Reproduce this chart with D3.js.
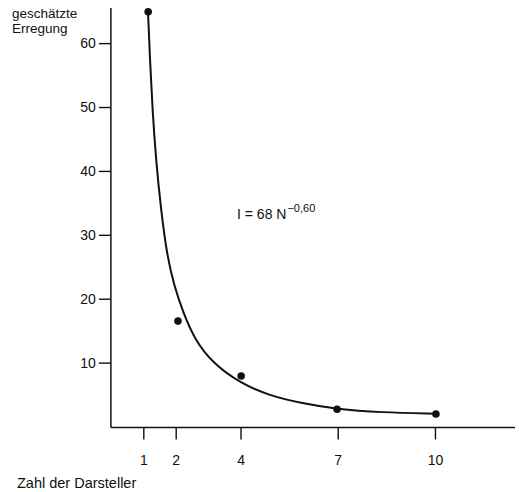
<!DOCTYPE html>
<html lang="de">
  <head>
    <meta charset="utf-8">
    <script type="text/javascript" src="https://cdn.jsdelivr.net/npm/d3@7/dist/d3.min.js"></script>
    <style>
      body { margin: 0; background: #fff; }
      svg { display: block; }
      text { font-family: "Liberation Sans", Arial, sans-serif; fill: #111; }
    </style>
  </head>
  <body>
    <svg id="chart"></svg>
  </body>
  <script type="text/javascript">
    // tick values
    var xTicks = [1, 2, 4, 7, 10];
    var yTicks = [10, 20, 30, 40, 50, 60];

    // measured points (Zahl der Darsteller, geschätzte Erregung)
    var pointN = [1.15, 2.07, 4.02, 6.98, 10.03];
    var pointI = [64.9, 16.5, 7.9, 2.7, 1.95];

    // fitted curve
    var curveN = [1.145, 1.207, 1.284, 1.392, 1.546, 1.731, 1.947, 2.225, 2.596, 3.151, 3.985, 4.91, 5.836, 6.978, 8.306, 10.034];
    var curveI = [64.9, 57.3, 49.5, 41.7, 33.9, 26.8, 22.1, 17.9, 13.5, 9.9, 6.8, 4.8, 3.7, 2.7, 2.2, 2.0];

    var width = 519;
    var height = 492;

    var svg = d3.select('#chart')
      .attr('width', width)
      .attr('height', height);

    var x = d3.scaleLinear()
      .domain([0, 12.47])
      .range([110.9, 515]);

    var y = d3.scaleLinear()
      .domain([0, 65.5])
      .range([426.5, 8]);

    // axis lines drawn by hand, the ticks come from d3
    svg.append('line')
      .attr('x1', x(0)).attr('x2', x(0))
      .attr('y1', y(65.5)).attr('y2', y(0) + 1)
      .attr('stroke', '#111').attr('stroke-width', 1.5);
    svg.append('line')
      .attr('x1', x(0)).attr('x2', x(12.47))
      .attr('y1', y(0) + 1).attr('y2', y(0) + 1)
      .attr('stroke', '#111').attr('stroke-width', 1.5);

    var yAxis = d3.axisLeft(y)
      .tickValues(yTicks)
      .tickSize(12)
      .tickPadding(3);

    svg.append('g')
      .attr('class', 'yaxis')
      .attr('transform', 'translate(' + x(0) + ',0)')
      .call(yAxis)
      .call(function(g){ g.select('.domain').remove(); });

    var xAxis = d3.axisBottom(x)
      .tickValues(xTicks)
      .tickSize(12)
      .tickPadding(16);

    svg.append('g')
      .attr('class', 'xaxis')
      .attr('transform', 'translate(0,' + (y(0) + 1) + ')')
      .call(xAxis)
      .call(function(g){ g.select('.domain').remove(); });

    svg.selectAll('.tick line').attr('stroke', '#111').attr('stroke-width', 1.4);
    svg.selectAll('.tick text')
      .attr('fill', '#111')
      .style('font-size', '14px')
      .style('font-family', '"Liberation Sans", Arial, sans-serif');

    // curve
    var curveData = curveN.map(function(n, i){ return {n: n, v: curveI[i]}; });
    var line = d3.line()
      .x(function(d){ return x(d.n); })
      .y(function(d){ return y(d.v); })
      .curve(d3.curveBasis);

    svg.append('path')
      .datum(curveData)
      .attr('d', line)
      .attr('fill', 'none')
      .attr('stroke', '#111')
      .attr('stroke-width', 2);

    // points
    var pts = pointN.map(function(n, i){ return {n: n, v: pointI[i]}; });
    svg.selectAll('circle')
      .data(pts).enter()
      .append('circle')
      .attr('cx', function(d){ return x(d.n); })
      .attr('cy', function(d){ return y(d.v); })
      .attr('r', 3.8)
      .attr('fill', '#111');

    // axis titles
    svg.append('text')
      .attr('x', 12).attr('y', 18)
      .style('font-size', '13.5px')
      .text('geschätzte');
    svg.append('text')
      .attr('x', 12).attr('y', 33)
      .style('font-size', '13.5px')
      .text('Erregung');
    svg.append('text')
      .attr('x', 17).attr('y', 488)
      .style('font-size', '14.5px')
      .text('Zahl der Darsteller');

    // formula
    var eq = svg.append('text')
      .attr('x', 237).attr('y', 219)
      .style('font-size', '14px');
    eq.append('tspan').text('I = 68 N');
    eq.append('tspan')
      .attr('dy', -7)
      .attr('dx', 1)
      .style('font-size', '11px')
      .text('−0,60');
  </script>
</html>
